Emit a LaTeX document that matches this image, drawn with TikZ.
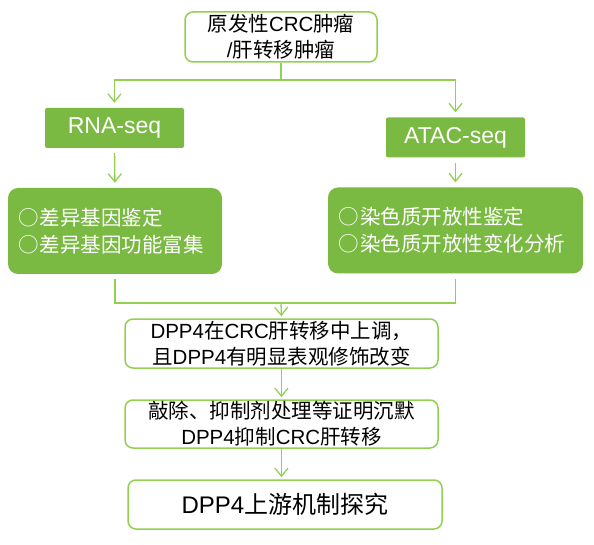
\documentclass[tikz,border=0pt]{standalone}
\usepackage{fontspec}
\setmainfont{Noto Sans CJK SC}
\newfontfamily\lat{Liberation Sans}
\usetikzlibrary{arrows.meta}
\definecolor{lineGreen}{RGB}{146,208,80}
\definecolor{fillGreen}{RGB}{122,185,66}

\begin{document}
\begin{tikzpicture}[
  x=1pt, y=-1pt,
  block/.style   = {draw=lineGreen, line width=1.5pt, rounded corners=8pt,
                    fill=white, align=center, inner sep=0pt,
                    font=\fontsize{20.5}{26}\selectfont},
  seqbox/.style  = {fill=fillGreen, rounded corners=2pt, text=white,
                    inner sep=0pt, minimum width=139pt, minimum height=40pt,
                    font=\lat\fontsize{23}{28}\selectfont},
  grpbox/.style  = {fill=fillGreen, rounded corners=10pt, text=white,
                    align=left, inner xsep=10pt, inner ysep=0pt,
                    minimum height=86pt, font=\fontsize{20.5}{27}\selectfont},
  sig/.style     = {-{Straight Barb[length=8pt,width=13pt]}, lineGreen, line width=1.3pt},
  link/.style    = {lineGreen, line width=1.3pt},
]
\useasboundingbox (0,0) rectangle (594,545);

% ---------- source ----------
\node[block, minimum width=192pt, minimum height=50pt] (src) at (281,37)
     {原发性{\lat CRC}肿瘤\\{\lat /}肝转移肿瘤};

% ---------- sequencing branches ----------
\node[seqbox] (rna)  at (114.5,128)   {RNA-seq};
\node[seqbox] (atac) at (455.5,137.5) {ATAC-seq};
\node[grpbox, text width=194pt] (grp-rna)  at (115,231)
     {○\hspace{1.5pt}差异基因鉴定\\○\hspace{1.5pt}差异基因功能富集};
\node[grpbox, text width=235pt] (grp-atac) at (455.5,230.5)
     {○\hspace{1.5pt}染色质开放性鉴定\\○\hspace{1.5pt}染色质开放性变化分析};

% ---------- main chain ----------
\node[block, minimum width=313pt, minimum height=49pt] (dpp) at (281.5,343.5)
     {{\lat DPP4}在{\lat CRC}肝转移中上调，\\且{\lat DPP4}有明显表观修饰改变};
\node[block, minimum width=313pt, minimum height=48pt] (kd) at (281.5,424)
     {敲除、抑制剂处理等证明沉默\\{\lat DPP4}抑制{\lat CRC}肝转移};
\node[block, minimum width=314pt, minimum height=49pt,
      font=\fontsize{24}{28}\selectfont] (mech) at (285,504.5)
     {{\lat DPP4}上游机制探究};

% ---------- split to the two assays ----------
\coordinate (split) at (281,80);
\draw[link] (src.south) -- (split);
\foreach \n in {rna,atac}{
  \draw[sig, shorten >=5pt] (split) -| (\n.north);
  \draw[sig, shorten <=5pt, shorten >=5pt] (\n.south) -- (grp-\n.north);
}

% ---------- merge into the chain ----------
\coordinate (merge) at (281,303);
\draw[link, shorten <=5pt, shorten >=5pt] (grp-rna.south) |- (merge) -| (grp-atac.south);
\draw[sig, shorten >=2pt] (merge) -- (dpp.north);
\draw[sig, shorten >=2pt] (dpp.south) -- (kd.north);
\draw[sig, shorten >=2pt] (kd.south) -- (kd.south|-mech.north);

\end{tikzpicture}
\end{document}
